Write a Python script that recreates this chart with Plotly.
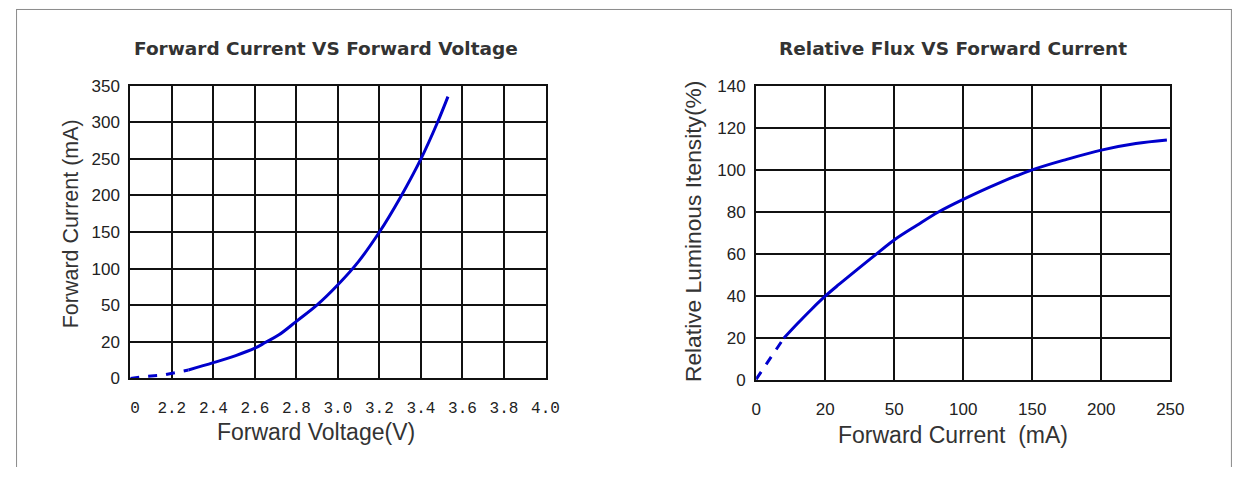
import numpy as np
import plotly.graph_objects as go

# ---- axis tick values (equally spaced on the chart, non-uniform in value) ----
iv_x_ticks = [0, 2.2, 2.4, 2.6, 2.8, 3.0, 3.2, 3.4, 3.6, 3.8, 4.0]
iv_x_text = ["\u00a00", "2.2", "2.4", "2.6", "2.8", "3.0", "3.2", "3.4", "3.6", "3.8", "4.0"]
iv_y_ticks = [0, 20, 50, 100, 150, 200, 250, 300, 350]

flux_x_ticks = [0, 20, 50, 100, 150, 200, 250]
flux_y_ticks = [0, 20, 40, 60, 80, 100, 120, 140]

# ---- Forward current (mA) vs forward voltage (V) ----
iv_dash_v = [0.0, 0.66, 1.72, 2.22, 2.28]
iv_dash_i = [0.0, 1.0, 1.8, 3.3, 4.6]
iv_v = [2.28, 2.4, 2.508, 2.6, 2.65, 2.716, 2.8, 2.9, 3.0, 3.1, 3.2, 3.3, 3.4, 3.48, 3.53]
iv_i = [4.6, 8.6, 12.5, 16.5, 19.6, 25.7, 36.8, 50.5, 78.0, 110.0, 150.0, 197.0, 250.0, 300.0, 335.0]

# ---- Relative luminous intensity (%) vs forward current (mA) ----
flux_dash_i = [0.0, 8.0]
flux_dash_p = [0.5, 20.0]
flux_i = [8, 12, 16, 20, 26, 32, 41, 50, 66.5, 82, 100, 125, 150, 175, 200, 225, 247.5]
flux_p = [20, 27, 33.7, 40, 45.6, 51, 58.9, 66.7, 73.7, 80, 86, 93.5, 100, 105, 109.4, 112.5, 114.2]


def to_pos(values, ticks):
    """Map real values onto the evenly spaced tick grid."""
    return np.interp(values, ticks, np.arange(len(ticks)))


W, H = 1251, 477
# The page keeps the default 8px body margin around the figure; layout
# positions below are given in page pixels and converted to paper fractions.
BODY_MARGIN = 8
SX = W / (W + 2 * BODY_MARGIN)
SY = H / (H + 2 * BODY_MARGIN)


def px(x):
    return (x / SX - BODY_MARGIN) / W


def py(y):
    return 1 - (y / SY - BODY_MARGIN) / H


CURVE = "#0000cc"
GRID = "#111111"
TICK_FONT = dict(family="Liberation Sans Narrow, Arial Narrow, Liberation Sans, sans-serif", size=17, color="#222222")
MONO_FONT = dict(family="Liberation Mono, DejaVu Sans Mono, monospace", size=16, color="#222222")
TITLE_FONT = dict(family="DejaVu Sans, sans-serif", size=18.5, color="#333333", weight="bold")
AXT_FAMILY = "Liberation Sans, Arial, sans-serif"

fig = go.Figure()

fig.add_trace(go.Scatter(x=to_pos(iv_dash_v, iv_x_ticks), y=to_pos(iv_dash_i, iv_y_ticks),
                         mode="lines", line=dict(color=CURVE, width=3, dash="dash"),
                         xaxis="x", yaxis="y", showlegend=False, hoverinfo="skip"))
fig.add_trace(go.Scatter(x=to_pos(iv_v, iv_x_ticks), y=to_pos(iv_i, iv_y_ticks),
                         mode="lines", line=dict(color=CURVE, width=3, shape="spline"),
                         xaxis="x", yaxis="y", showlegend=False))
fig.add_trace(go.Scatter(x=to_pos(flux_dash_i, flux_x_ticks), y=flux_dash_p,
                         mode="lines", line=dict(color=CURVE, width=3, dash="dash"),
                         xaxis="x2", yaxis="y2", showlegend=False, hoverinfo="skip"))
fig.add_trace(go.Scatter(x=to_pos(flux_i, flux_x_ticks), y=flux_p,
                         mode="lines", line=dict(color=CURVE, width=3, shape="spline"),
                         xaxis="x2", yaxis="y2", showlegend=False))

axis_common = dict(showgrid=True, gridcolor=GRID, gridwidth=1.6, zeroline=False,
                   showline=True, linecolor=GRID, linewidth=2, mirror=True,
                   ticks="", fixedrange=True)

fig.update_layout(
    width=W, height=H,
    margin=dict(l=0, r=0, t=0, b=0),
    paper_bgcolor="white", plot_bgcolor="white",
    xaxis=dict(domain=[px(129), px(547)], range=[0, 10], anchor="y",
               tickvals=list(range(len(iv_x_ticks))), ticktext=iv_x_text,
               tickfont=MONO_FONT, ticklabelstandoff=13, **axis_common),
    yaxis=dict(domain=[py(380), py(85)], range=[0, 8], anchor="x",
               tickvals=list(range(len(iv_y_ticks))), ticktext=[str(v) for v in iv_y_ticks],
               tickfont=TICK_FONT, ticklabelstandoff=5, **axis_common),
    xaxis2=dict(domain=[px(759), px(1176)], range=[0, 6], anchor="y2",
                tickvals=list(range(len(flux_x_ticks))), ticktext=[str(v) for v in flux_x_ticks],
                tickfont=TICK_FONT, ticklabelstandoff=12, **axis_common),
    yaxis2=dict(domain=[py(382), py(85)], range=[0, 140], anchor="x2",
                tickvals=flux_y_ticks, ticktext=[str(v) for v in flux_y_ticks],
                tickfont=TICK_FONT, ticklabelstandoff=5, **axis_common),
)

annotations = [
    dict(text="Forward Current VS Forward Voltage", x=px(326), y=py(48), font=TITLE_FONT),
    dict(text="Relative Flux VS Forward Current", x=px(957), y=py(48), font=TITLE_FONT),
    dict(text="Forward Voltage(V)", x=px(316), y=py(434),
         font=dict(family=AXT_FAMILY, size=23, color="#333333")),
    dict(text="Forward Current  (mA)", x=px(957), y=py(437),
         font=dict(family=AXT_FAMILY, size=23, color="#333333")),
    dict(text="Forward Current (mA)", x=px(69), y=py(224), textangle=-90,
         font=dict(family=AXT_FAMILY, size=21.5, color="#333333")),
    dict(text="Relative Luminous Itensity(%)", x=px(695), y=py(232), textangle=-90,
         font=dict(family=AXT_FAMILY, size=22.8, color="#333333")),
]
for a in annotations:
    a.update(xref="paper", yref="paper", showarrow=False, xanchor="center", yanchor="middle")
fig.update_layout(annotations=annotations)

# thin frame around the whole figure (top, left, right edges)
frame = dict(type="line", xref="paper", yref="paper", line=dict(color="#8a8a8a", width=1))
top = 1 - 0.5 / H
fig.add_shape(x0=px(14), x1=px(1238), y0=top, y1=top, **frame)
fig.add_shape(x0=px(14.5), x1=px(14.5), y0=0, y1=top, **frame)
fig.add_shape(x0=px(1237.5), x1=px(1237.5), y0=0, y1=top, **frame)

fig.write_html("out.html", config={"displayModeBar": False})
